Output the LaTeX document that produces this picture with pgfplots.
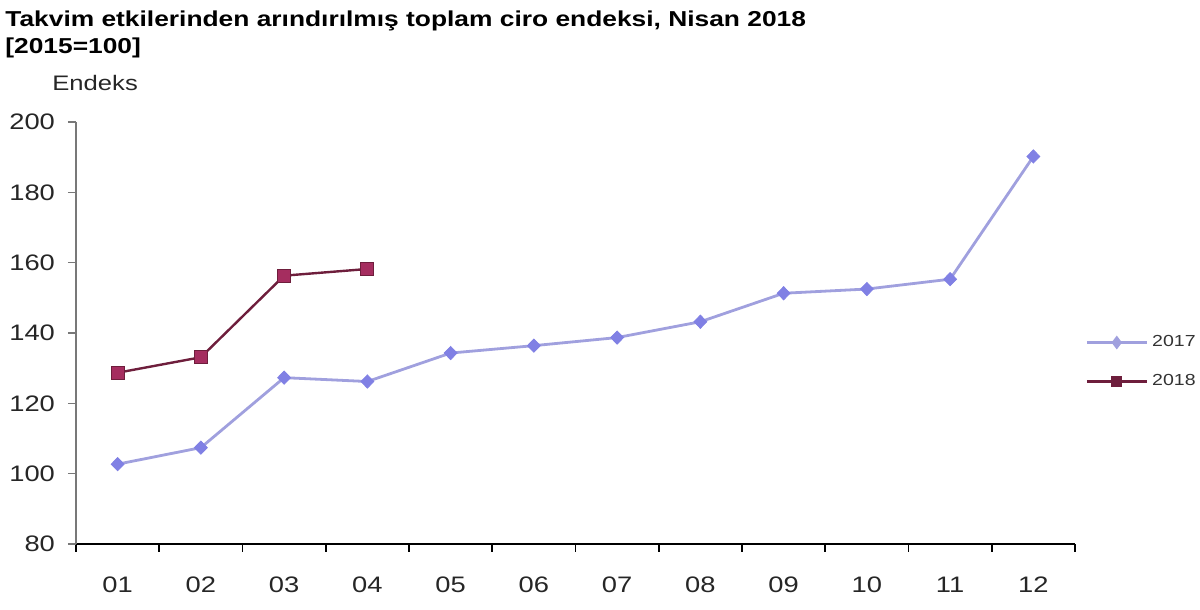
\documentclass[border=0pt]{standalone}
\usepackage{pgfplots}
\pgfplotsset{compat=1.18}
\usepackage{fontspec}
\setmainfont{Liberation Sans}[FakeStretch=1.22]
\definecolor{lav}{RGB}{160,160,222}
\definecolor{lavmark}{RGB}{128,128,228}
\definecolor{maroonl}{RGB}{110,30,60}
\definecolor{maroonm}{RGB}{165,45,95}
\definecolor{axgray}{RGB}{120,120,120}
\begin{document}
\begin{tikzpicture}
\useasboundingbox (0,0) rectangle (600pt,305pt);
\node[anchor=base west, inner sep=0pt, font=\bfseries\fontsize{10.8}{12}\selectfont] at (2.5pt,291.5pt) {Takvim etkilerinden arındırılmış toplam ciro endeksi, Nisan 2018};
\node[anchor=base west, inner sep=0pt, font=\bfseries\fontsize{10.8}{12}\selectfont] at (2.5pt,278pt) {[2015=100]};
\node[anchor=base west, inner sep=0pt, font=\fontsize{10.5}{13}\selectfont, text=black!85] at (26pt,259.5pt) {Endeks};
\begin{axis}[
  at={(38pt,33pt)}, anchor=south west,
  width=499.5pt, height=211pt, scale only axis,
  clip=false,
  xmin=0.5, xmax=12.5,
  ymin=80, ymax=200,
  ytick={80,100,...,200},
  xtick={0.5,1.5,...,12.5},
  xticklabels={,,,,,,,,,,,,,},
  extra x ticks={1,2,3,4,5,6,7,8,9,10,11,12},
  extra x tick labels={01,02,03,04,05,06,07,08,09,10,11,12},
  extra x tick style={tick style={draw=none}},
  axis x line=bottom, axis y line=left,
  separate axis lines,
  x axis line style={-, black, line width=1pt},
  y axis line style={-, axgray, line width=0.8pt},
  tick align=outside,
  major tick length=4pt,
  x tick style={black, line width=0.8pt},
  y tick style={axgray, line width=0.8pt},
  tick label style={font=\fontsize{11.2}{13}\selectfont, text=black!85},
  xticklabel style={yshift=-9pt},
  yticklabel style={xshift=-3pt},
  /pgf/number format/assume math mode=true,
  legend style={draw=none, fill=none, at={(1.01,0.431)}, anchor=west,
    font=\fontsize{8}{10}\selectfont, text=black!80, row sep=8.5pt,
    inner sep=0pt, legend cell align=left},
  legend image code/.code={\draw[mark repeat=2,mark phase=2,#1, mark options={scale=0.7}] plot coordinates {(0pt,0pt) (15pt,0pt) (30pt,0pt)};},
]
\addplot[lav, line width=1.4pt, mark=diamond*, mark size=3.3pt,
  mark options={fill=lavmark, draw=lavmark, line width=0.4pt, xscale=1.3}]
  coordinates {(1,102.7) (2,107.4) (3,127.3) (4,126.2) (5,134.3) (6,136.4)
  (7,138.7) (8,143.2) (9,151.3) (10,152.5) (11,155.3) (12,190.2)};
\addlegendentry{2017}
\addplot[maroonl, line width=1.2pt, mark=square*, mark size=3.2pt,
  mark options={fill=maroonm, draw=maroonl, line width=0.5pt}]
  coordinates {(1,128.7) (2,133.1) (3,156.3) (4,158.2)};
\addlegendentry{2018}
\end{axis}
\end{tikzpicture}
\end{document}
